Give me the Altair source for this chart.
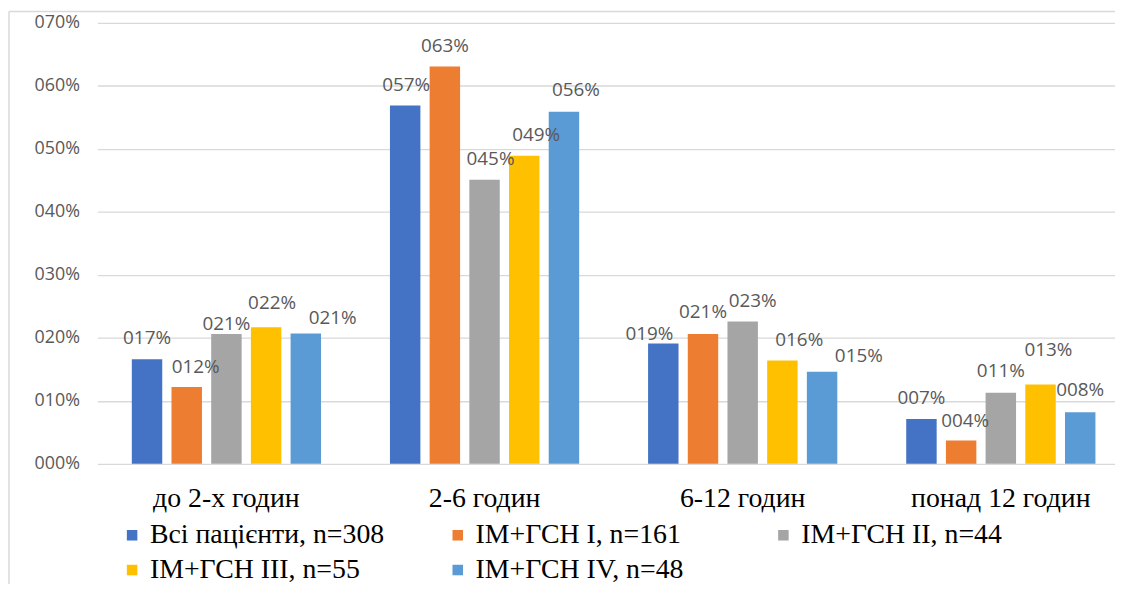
import altair as alt
import pandas as pd

categories = ["до 2-х годин", "2-6 годин", "6-12 годин", "понад 12 годин"]
series = ["Всі пацієнти, n=308", "ІМ+ГСН I, n=161", "ІМ+ГСН II, n=44",
          "ІМ+ГСН III, n=55", "ІМ+ГСН IV, n=48"]
colors = ["#4472C4", "#ED7D31", "#A5A5A5", "#FFC000", "#5B9BD5"]

vals_all = [0.166, 0.569, 0.191, 0.071]
vals_i = [0.122, 0.631, 0.206, 0.037]
vals_ii = [0.206, 0.451, 0.226, 0.113]
vals_iii = [0.217, 0.489, 0.164, 0.126]
vals_iv = [0.207, 0.559, 0.146, 0.082]
values = [vals_all, vals_i, vals_ii, vals_iii, vals_iv]

# manual nudges of the data labels (horizontal shift, gap above bar), as placed in the original
label_dx = [[0, 1, -14, 0], [9, 0, 0, 4], [0, 6, 10, 0], [6, 12, 17, 8], [27, 12, 37, 0]]
label_gap = [[15, 15, 4, 15], [14, 15, 16, 14], [4, 15, 15, 16], [18, 15, 15, 29], [9, 16, 10, 16]]

rows = []
for s_i, s in enumerate(series):
    for c_i, c in enumerate(categories):
        v = values[s_i][c_i]
        rows.append({"cat": c, "series": s, "value": v,
                     "label": f"{int(v * 100 + 0.5):03d}%",
                     "idx": s_i * 4 + c_i})
df = pd.DataFrame(rows)

PLOT_W = 1040
PLOT_H = 444

SERIF = "Liberation Serif"

base = alt.Chart(df).encode(
    x=alt.X("cat:N", sort=categories,
            scale=alt.Scale(paddingInner=0, paddingOuter=0),
            axis=alt.Axis(title=None, labelAngle=0, labelFont=SERIF,
                          labelFontSize=28, labelColor="black", domain=False, ticks=False,
                          tickSize=0, labelPadding=43, labelBaseline="alphabetic",
                          labelOverlap=False, labelLimit=400)),
    xOffset=alt.XOffset("series:N", sort=series,
                        scale=alt.Scale(paddingInner=0.233, paddingOuter=0.868)),
    y=alt.Y("value:Q", scale=alt.Scale(domain=[0, 0.7]),
            axis=alt.Axis(title=None, values=[0, 0.1, 0.2, 0.3, 0.4, 0.5, 0.6, 0.7],
                          format="04.0%", labelFont="Open Sans", labelFontSize=18,
                          labelColor="#595959", grid=True, gridColor="#D9D9D9",
                          gridWidth=1.3, domain=False, ticks=False, tickSize=0,
                          labelPadding=18)),
)

bars = base.mark_bar().encode(
    color=alt.Color("series:N", sort=series,
                    scale=alt.Scale(domain=series, range=colors),
                    legend=alt.Legend(title=None, orient="none", legendX=21, legendY=502,
                                      direction="horizontal", columns=3, gridAlign="all",
                                      symbolType="square", symbolSize=112,
                                      symbolStrokeWidth=0, labelFont=SERIF,
                                      labelFontWeight="normal",
                                      labelFontSize=28, labelColor="black", labelOffset=4,
                                      labelLimit=600, columnPadding=59, rowPadding=7,
                                      padding=0))
)

text_layers = []
for s_i in range(len(series)):
    for c_i in range(len(categories)):
        i = s_i * 4 + c_i
        text_layers.append(
            base.transform_filter(alt.datum.idx == i).mark_text(
                dx=label_dx[s_i][c_i], dy=-label_gap[s_i][c_i], baseline="alphabetic",
                font="Open Sans", fontSize=19, color="#595959"
            ).encode(text="label:N")
        )

border_df = pd.DataFrame({"k": [0]})
left_border = alt.Chart(border_df).mark_rule(color="#D9D9D9", strokeWidth=1.5).encode(
    x=alt.value(-89), y=alt.value(-11.5), y2=alt.value(570))
top_border = alt.Chart(border_df).mark_rule(color="#D9D9D9", strokeWidth=1.5).encode(
    y=alt.value(-11.5), x=alt.value(-89), x2=alt.value(1040))

chart = alt.layer(bars, *text_layers, left_border, top_border).properties(
    width=PLOT_W, height=PLOT_H,
    autosize=alt.AutoSizeParams(type="none"),
    padding={"left": 90, "top": 13, "right": -15, "bottom": 119},
).configure_view(stroke=None).configure_legend(labelFont=SERIF, labelFontWeight="normal")

chart.save("out.html", embed_options={"renderer": "svg", "actions": False})
